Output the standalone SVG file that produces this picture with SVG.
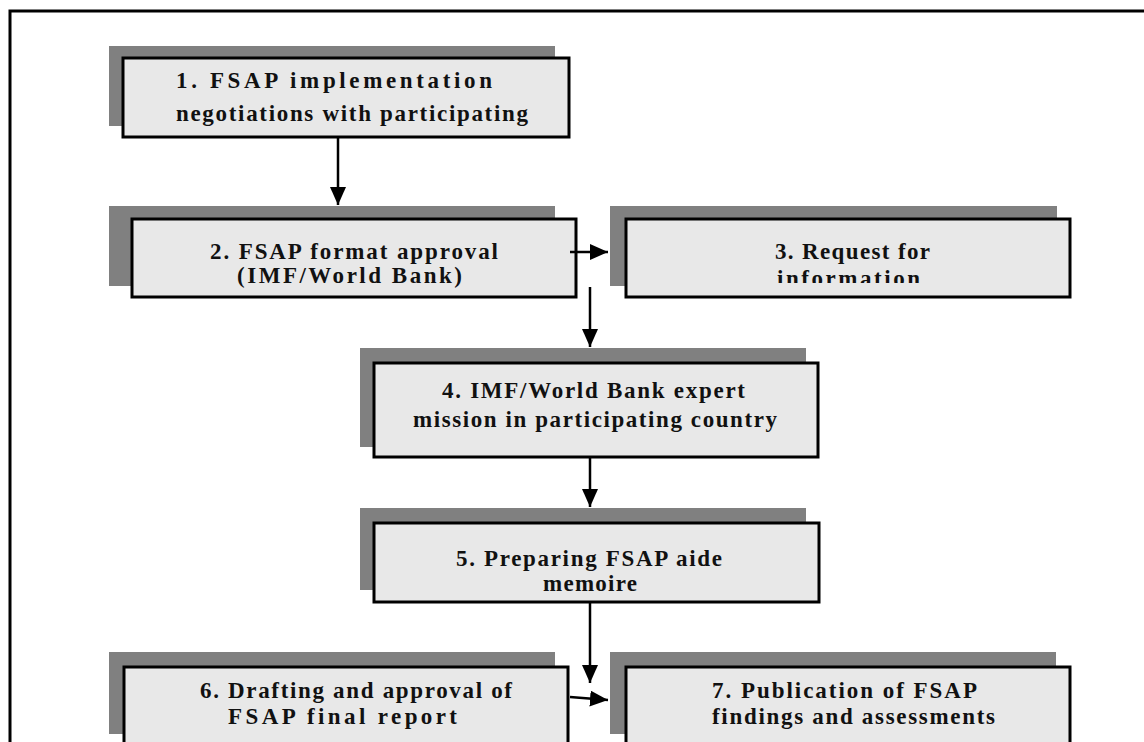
<svg xmlns="http://www.w3.org/2000/svg" width="1144" height="742" viewBox="0 0 1144 742">
<style>
.shadow{fill:#808080;stroke:none}
.box{fill:#e8e8e8;stroke:#000;stroke-width:3}
.t{font-family:"Liberation Serif","Times New Roman",serif;font-weight:bold;font-size:23px;fill:#111}
.c{stroke:#000;stroke-width:2.5;fill:none;marker-end:url(#ah)}
</style>
<defs>
<marker id="ah" markerUnits="userSpaceOnUse" markerWidth="18" markerHeight="16" refX="18" refY="8" orient="auto">
<path d="M0,0 L18,8 L0,16 z" fill="#000"/>
</marker>
<clipPath id="clip3"><rect x="626" y="219" width="444" height="64"/></clipPath>
</defs>
<rect x="0" y="0" width="1144" height="742" fill="#fff"/>
<rect x="10" y="11" width="1200" height="800" fill="none" stroke="#000" stroke-width="3"/>

<g id="node1">
<rect class="shadow" x="109" y="46" width="446" height="80"/>
<rect class="box" x="123" y="58" width="446" height="79"/>
<text class="t" x="176" y="88" textLength="316" lengthAdjust="spacing">1. FSAP implementation</text>
<text class="t" x="176" y="121" textLength="352" lengthAdjust="spacing">negotiations with participating</text>
</g>

<g id="node2">
<rect class="shadow" x="109" y="206" width="446" height="80"/>
<rect class="box" x="132" y="219" width="444" height="78"/>
<text class="t" x="210" y="259" textLength="288" lengthAdjust="spacing">2. FSAP format approval</text>
<text class="t" x="237" y="283" textLength="225" lengthAdjust="spacing">(IMF/World Bank)</text>
</g>

<g id="node3">
<rect class="shadow" x="610" y="206" width="447" height="80"/>
<rect class="box" x="626" y="219" width="444" height="78"/>
<text class="t" x="775" y="259" textLength="155" lengthAdjust="spacing">3. Request for</text>
<text class="t" x="777" y="286" textLength="143" lengthAdjust="spacing" clip-path="url(#clip3)">information</text>
</g>

<g id="node4">
<rect class="shadow" x="360" y="348" width="446" height="99"/>
<rect class="box" x="374" y="363" width="444" height="94"/>
<text class="t" x="442" y="398" textLength="303" lengthAdjust="spacing">4. IMF/World Bank expert</text>
<text class="t" x="413" y="427" textLength="364" lengthAdjust="spacing">mission in participating country</text>
</g>

<g id="node5">
<rect class="shadow" x="360" y="508" width="446" height="82"/>
<rect class="box" x="374" y="523" width="445" height="79"/>
<text class="t" x="456" y="566" textLength="266" lengthAdjust="spacing">5. Preparing FSAP aide</text>
<text class="t" x="543" y="591" textLength="94" lengthAdjust="spacing">memoire</text>
</g>

<g id="node6">
<rect class="shadow" x="109" y="652" width="446" height="82"/>
<rect class="box" x="124" y="667" width="444" height="100"/>
<text class="t" x="200" y="698" textLength="312" lengthAdjust="spacing">6. Drafting and approval of</text>
<text class="t" x="228" y="724" textLength="229" lengthAdjust="spacing">FSAP final report</text>
</g>

<g id="node7">
<rect class="shadow" x="610" y="652" width="446" height="82"/>
<rect class="box" x="626" y="667" width="444" height="100"/>
<text class="t" x="712" y="698" textLength="265" lengthAdjust="spacing">7. Publication of FSAP</text>
<text class="t" x="712" y="724" textLength="283" lengthAdjust="spacing">findings and assessments</text>
</g>

<g id="connectors">
<line class="c" x1="338" y1="137" x2="338" y2="205"/>
<line class="c" x1="570" y1="252" x2="608" y2="252"/>
<line class="c" x1="590" y1="287" x2="590" y2="347"/>
<line class="c" x1="590" y1="457" x2="590" y2="507"/>
<line class="c" x1="590" y1="602" x2="590" y2="683"/>
<line class="c" x1="570" y1="697" x2="608" y2="700"/>
</g>
</svg>
